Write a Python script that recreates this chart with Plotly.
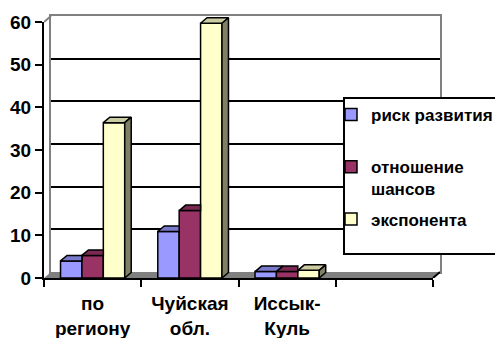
import plotly.graph_objects as go

# ---------------- data ----------------
categories = ["по<br>региону", "Чуйская<br>обл.", "Иссык-<br>Куль", ""]
series_names = ["риск развития", "отношение<br>шансов", "экспонента"]
risk = [4.0, 10.9, 1.5]          # риск развития
odds = [5.3, 15.8, 1.5]          # отношение шансов
expo = [36.4, 59.7, 1.8]         # экспонента
y_ticks = [0, 10, 20, 30, 40, 50, 60]
grid_vals = [10, 20, 30, 40, 50]

series = [risk, odds, expo]

# ---------------- style ----------------
front_col = ["#9999FF", "#993366", "#FFFFCC"]
top_col = ["#7A7ACC", "#7A2952", "#CCCCA3"]
side_col = ["#4D4D80", "#4D1A33", "#808066"]
FONT = "Liberation Sans, Arial, sans-serif"


def bold(s):
    return "<br>".join(f"<b>{p}</b>" if p.strip() else p for p in s.split("<br>"))


W, H = 495, 338
PL, PR, PT, PB = 44, 440, 16, 278      # overall plot box (px)
WDX, WDY = 7, 6                        # wall depth (px)
BDX, BDY = 6.5, 5.5                    # bar depth (px)
FRONT = (PL, PR - WDX, PT + WDY, PB)   # left, right, top, bottom
BACK = (PL + WDX, PR, PT, PB - WDY)
pw, ph = PR - PL, PB - PT


def dom_x(box):
    return [(box[0] - PL) / pw, (box[1] - PL) / pw]


def dom_y(box):
    return [(PB - box[3]) / ph, (PB - box[2]) / ph]


ncat = len(categories)
xr = [-0.5, ncat - 0.5]
yr = [0, y_ticks[-1]]
ux = (xr[1] - xr[0]) / (FRONT[1] - FRONT[0])
uy = (yr[1] - yr[0]) / (FRONT[3] - FRONT[2])
data_xr = [xr[0], xr[0] + pw * ux]
data_yr = [0, ph * uy]
bdx, bdy = BDX * ux, BDY * uy
wdx, wdy = WDX * ux, WDY * uy

bar_w = 0.22
offsets = [-0.33 + k * bar_w for k in range(len(series))]

fig = go.Figure()

# dummy trace to fix subplot order: back wall, data, front axes
fig.add_trace(go.Scatter(x=[], y=[], xaxis="x", yaxis="y", showlegend=False, hoverinfo="skip"))

# front faces: bars
for k, vals in enumerate(series):
    nm = series_names[k] if "<br>" in series_names[k] else series_names[k] + "<br>\u00a0"
    fig.add_trace(go.Bar(
        x=list(range(len(vals))), y=vals, width=bar_w, offset=offsets[k],
        name=bold(nm), legendgroup=f"g{k}",
        marker=dict(color=front_col[k], line=dict(color="black", width=1.5)),
        xaxis="x2", yaxis="y2",
    ))

# top faces
for k, vals in enumerate(series):
    xs, ys = [], []
    for j, v in enumerate(vals):
        xl = j + offsets[k]
        xrr = xl + bar_w
        nxt = series[k + 1][j] if k + 1 < len(series) else None
        if nxt is not None and nxt > v:
            pts = [(xl, v), (xrr, v), (xrr, v + bdy), (xl + bdx, v + bdy)]
        else:
            pts = [(xl, v), (xrr, v), (xrr + bdx, v + bdy), (xl + bdx, v + bdy)]
        pts.append(pts[0])
        xs += [p[0] for p in pts] + [None]
        ys += [p[1] for p in pts] + [None]
    fig.add_trace(go.Scatter(
        x=xs, y=ys, mode="lines", fill="toself", fillcolor=top_col[k],
        line=dict(color="black", width=1.5), showlegend=False, hoverinfo="skip",
        xaxis="x2", yaxis="y2",
    ))

# side faces (only where visible)
for k, vals in enumerate(series):
    xs, ys = [], []
    for j, v in enumerate(vals):
        nxt = series[k + 1][j] if k + 1 < len(series) else None
        if nxt is not None:
            continue
        xrr = j + offsets[k] + bar_w
        pts = [(xrr, 0), (xrr, v), (xrr + bdx, v + bdy), (xrr + bdx, bdy), (xrr, 0)]
        xs += [p[0] for p in pts] + [None]
        ys += [p[1] for p in pts] + [None]
    if xs:
        fig.add_trace(go.Scatter(
            x=xs, y=ys, mode="lines", fill="toself", fillcolor=side_col[k],
            line=dict(color="black", width=1.5), showlegend=False, hoverinfo="skip",
            xaxis="x2", yaxis="y2",
        ))

fig.add_trace(go.Scatter(x=[], y=[], xaxis="x3", yaxis="y3", showlegend=False, hoverinfo="skip"))

# floor and wall edges
fig.add_shape(type="path", xref="x2", yref="y2", layer="below",
              path=f"M {xr[0]},0 L {xr[1]},0 L {xr[1] + wdx},{wdy} L {xr[0] + wdx},{wdy} Z",
              fillcolor="#808080", line=dict(width=0))
fig.add_shape(type="line", xref="x2", yref="y2", layer="below",
              x0=xr[1], y0=0, x1=xr[1] + wdx, y1=wdy, line=dict(color="black", width=2))
fig.add_shape(type="line", xref="x2", yref="y2", layer="below",
              x0=xr[0], y0=yr[1], x1=xr[0] + wdx, y1=yr[1] + wdy, line=dict(color="#808080", width=2))

# legend frame
LB = (344, 500, 98, 254)
fig.add_shape(type="rect", xref="paper", yref="paper", layer="above",
              x0=(LB[0] - PL) / pw, x1=(LB[1] - PL) / pw,
              y0=(PB - LB[3]) / ph, y1=(PB - LB[2]) / ph,
              fillcolor="white", line=dict(color="black", width=2))

axis_font = dict(family=FONT, size=19, color="black", weight="bold")

fig.update_layout(
    width=W, height=H,
    margin=dict(l=PL, r=W - PR, t=PT, b=H - PB, autoexpand=False),
    paper_bgcolor="white", plot_bgcolor="rgba(0,0,0,0)",
    barmode="overlay",
    showlegend=True,
    legend=dict(
        x=(331 - PL) / pw, xanchor="left", y=1 - (97 - PT) / ph, yanchor="top",
        bgcolor="rgba(0,0,0,0)", borderwidth=0, valign="top",
        tracegroupgap=5,
        font=dict(family=FONT, size=17, color="black", weight="bold"),
    ),
    # back wall
    xaxis=dict(domain=dom_x(BACK), range=xr, showticklabels=False, ticks="", showgrid=False,
               zeroline=False, showline=True, linecolor="#808080", linewidth=2, mirror=True,
               layer="below traces", anchor="y", fixedrange=True),
    yaxis=dict(domain=dom_y(BACK), range=yr, tickvals=grid_vals, showticklabels=False, ticks="",
               showgrid=True, gridcolor="black", gridwidth=2, zeroline=False,
               showline=True, linecolor="#808080", linewidth=2, mirror=True,
               layer="below traces", anchor="x", fixedrange=True),
    # data
    xaxis2=dict(domain=[0, 1], range=data_xr, visible=False, anchor="y2", fixedrange=True),
    yaxis2=dict(domain=[0, 1], range=data_yr, visible=False, anchor="x2", fixedrange=True),
    # front axes
    xaxis3=dict(domain=dom_x(FRONT), range=xr, tickmode="array",
                tickvals=list(range(ncat)), ticktext=[bold(c) for c in categories], ticks="",
                minor=dict(tickvals=[i - 0.5 for i in range(ncat + 1)], ticks="outside",
                           ticklen=7, tickwidth=2, tickcolor="black", showgrid=False),
                showgrid=False, zeroline=False, showline=True, linecolor="black", linewidth=2,
                tickfont=axis_font, ticklabelstandoff=7, anchor="y3", fixedrange=True),
    yaxis3=dict(domain=dom_y(FRONT), range=yr, tickmode="array", tickvals=y_ticks,
                ticktext=[bold(str(v)) for v in y_ticks],
                ticks="outside", ticklen=7, tickwidth=2, tickcolor="black",
                showgrid=False, zeroline=False, showline=True, linecolor="black", linewidth=2,
                tickfont=axis_font, anchor="x3", fixedrange=True),
)

fig.write_html("out.html")
